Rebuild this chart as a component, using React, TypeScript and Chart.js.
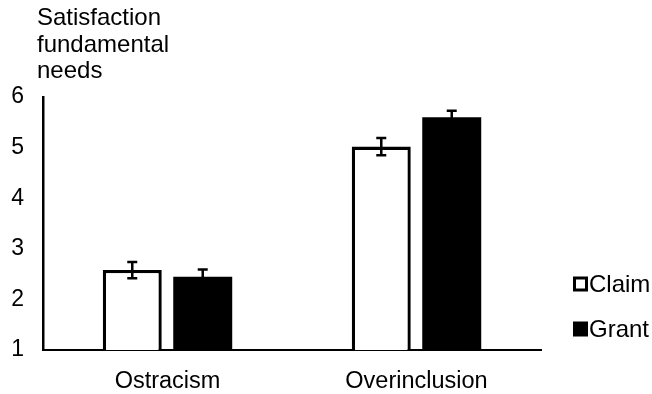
import React, { useEffect, useRef } from "react";
import { Chart, registerables } from "chart.js";

Chart.register(...registerables);

const categories = ["Ostracism", "Overinclusion"];
const seriesNames = ["Claim", "Grant"];
const claimValues = [2.58, 5.02];
const grantValues = [2.45, 5.6];
const claimErrors = [0.16, 0.17];
const grantErrors = [0.14, 0.13];
const yTicks = [1, 2, 3, 4, 5, 6];
const axisTitleLines = ["Satisfaction", "fundamental", "needs"];

const FONT = "'Liberation Sans', Arial, sans-serif";

const errorBarPlugin = {
  id: "errorBars",
  afterDatasetsDraw(chart: any) {
    const ctx = chart.ctx;
    const yScale = chart.scales.y;
    const errs = [claimErrors, grantErrors];
    ctx.save();
    ctx.strokeStyle = "#000";
    ctx.lineWidth = 2.5;
    chart.data.datasets.forEach((ds: any, di: number) => {
      const meta = chart.getDatasetMeta(di);
      meta.data.forEach((el: any, i: number) => {
        const v = ds.data[i];
        const e = errs[di][i];
        const yTop = yScale.getPixelForValue(v + e);
        const yBot = yScale.getPixelForValue(v - e);
        const x = el.x;
        ctx.beginPath();
        ctx.moveTo(x, yTop);
        ctx.lineTo(x, yBot);
        ctx.moveTo(x - 5, yTop);
        ctx.lineTo(x + 5, yTop);
        ctx.moveTo(x - 5, yBot);
        ctx.lineTo(x + 5, yBot);
        ctx.stroke();
      });
    });
    ctx.restore();
  },
};

const decorPlugin = {
  id: "decor",
  afterDraw(chart: any) {
    const ctx = chart.ctx;
    ctx.save();
    ctx.fillStyle = "#000";
    ctx.font = `24px ${FONT}`;
    ctx.textAlign = "left";
    ctx.textBaseline = "alphabetic";
    axisTitleLines.forEach((t, i) => {
      ctx.fillText(t, 37, 25 + i * 26.5);
    });
    // legend
    const items = [
      { label: seriesNames[0], y: 284, fill: "#fff" },
      { label: seriesNames[1], y: 329, fill: "#000" },
    ];
    ctx.font = `24px ${FONT}`;
    ctx.textBaseline = "middle";
    items.forEach((it) => {
      ctx.fillStyle = "#000";
      ctx.fillRect(573, it.y - 7.5, 15, 15);
      if (it.fill === "#fff") {
        ctx.fillStyle = "#fff";
        ctx.fillRect(576, it.y - 4.5, 9, 9);
      }
      ctx.fillStyle = "#000";
      ctx.fillText(it.label, 589, it.y + 1);
    });
    ctx.restore();
  },
};

export default function App() {
  const ref = useRef<HTMLCanvasElement | null>(null);
  useEffect(() => {
    if (!ref.current) return;
    const chart = new Chart(ref.current, {
      type: "bar",
      data: {
        labels: categories,
        datasets: [
          {
            label: seriesNames[0],
            data: claimValues,
            backgroundColor: "#fff",
            borderColor: "#000",
            borderWidth: 3.3,
            borderSkipped: "bottom",
            categoryPercentage: 0.566,
            barPercentage: 0.837,
          },
          {
            label: seriesNames[1],
            data: grantValues,
            backgroundColor: "#000",
            borderColor: "#000",
            borderWidth: 0,
            categoryPercentage: 0.566,
            barPercentage: 0.837,
          },
        ],
      },
      options: {
        animation: false,
        responsive: true,
        maintainAspectRatio: false,
        layout: { padding: { top: 97, right: 111, left: 0, bottom: 0 } },
        plugins: {
          legend: { display: false },
          tooltip: { enabled: false },
        },
        scales: {
          x: {
            grid: { display: false, drawTicks: false },
            border: { display: true, color: "#000", width: 2 },
            ticks: {
              color: "#000",
              font: { family: FONT, size: 23.5 },
              padding: 17,
            },
            afterFit(scale: any) {
              scale.height = 44;
            },
          },
          y: {
            min: 1,
            max: 6,
            afterBuildTicks(scale: any) {
              scale.ticks = yTicks.map((v) => ({ value: v }));
            },
            grid: { display: false, drawTicks: false },
            border: { display: true, color: "#000", width: 2.5 },
            ticks: {
              color: "#000",
              font: { family: FONT, size: 23 },
              padding: 19,
            },
            afterFit(scale: any) {
              scale.width = 43;
            },
          },
        },
      },
      plugins: [errorBarPlugin, decorPlugin],
    });
    return () => chart.destroy();
  }, []);
  return (
    <div style={{ position: "absolute", left: 0, top: 0, width: 652, height: 394, background: "#fff" }}>
      <canvas ref={ref} />
    </div>
  );
}
